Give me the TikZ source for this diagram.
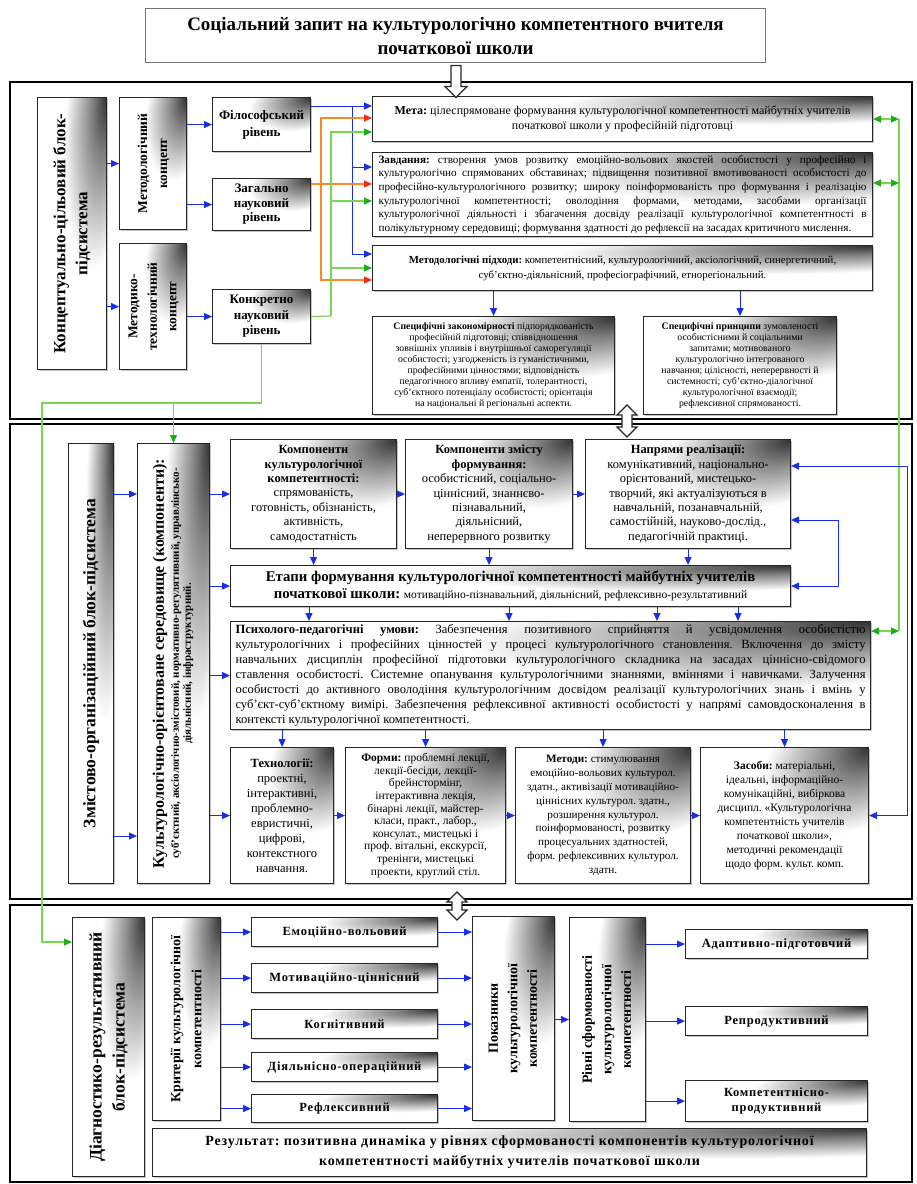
\documentclass[tikz,border=0pt]{standalone}
\usepackage{graphicx}
\usepackage{fontspec}
\setmainfont{Liberation Serif}
\newfontfamily\spacedserif{Liberation Serif}[LetterSpace=6]
\frenchspacing
\usetikzlibrary{arrows.meta,calc,shapes.arrows,shadows}
\definecolor{linkblue}{RGB}{25,45,235}
\definecolor{linkgreen}{RGB}{120,215,80}
\definecolor{tipgreen}{RGB}{25,175,25}
\definecolor{linkorange}{RGB}{250,135,40}
\definecolor{tipred}{RGB}{240,45,15}
\pgfdeclareradialshading{cornerglow}{\pgfpoint{25bp}{25bp}}{color(0bp)=(black!80); color(7bp)=(black!50); color(21bp)=(white); color(50bp)=(white)}

\begin{document}
\begin{tikzpicture}[x=1pt, y=-1pt,
        blk/.style={draw=black!85, line width=1.1pt, shade, shading=cornerglow,
                    drop shadow={shadow xshift=1.2pt, shadow yshift=-1.2pt, fill=black!45},
                    anchor=north west, align=center, inner sep=3pt},
        ttl/.style={draw=black!55, line width=1pt, fill=white, anchor=north west, align=center,
                    font=\bfseries\fontsize{19}{24}\selectfont},
        lvl/.style={font=\spacedserif\bfseries\fontsize{12.5}{15}\selectfont},
        frame/.style={draw=black, line width=1.8pt},
        hollow/.style={draw=black!85, line width=1.2pt, fill=white, inner sep=3.5pt},
        barr/.style={linkblue, line width=1pt, -{Triangle[length=8pt, width=7pt]}},
        bboth/.style={linkblue, line width=1pt, {Triangle[length=8pt, width=7pt]}-{Triangle[length=8pt, width=7pt]}},
        gline/.style={linkgreen, line width=1.2pt},
        garr/.style={gline, -{Triangle[length=8pt, width=7pt, color=tipgreen]}},
        gboth/.style={gline, {Triangle[length=8pt, width=7pt, color=tipgreen]}-{Triangle[length=8pt, width=7pt, color=tipgreen]}},
        oarr/.style={linkorange, line width=1.2pt, -{Triangle[length=8pt, width=7pt, color=tipred]}}
    ]
    \useasboundingbox (0,0) rectangle (917,1184);
    % frames of the three sub-systems
    \draw[frame] (10,82) rectangle (912,419);
    \draw[frame] (10,424) rectangle (912,899);
    \draw[frame] (10,905) rectangle (912,1182);

    \node[ttl, minimum width=620pt, minimum height=54pt] (req) at (145,8)
        {Соціальний запит на культурологічно компетентного вчителя\\початкової школи};

    % ---- conceptual block
    \node[blk, minimum width=69pt, minimum height=272pt, font=\bfseries\fontsize{17}{22}\selectfont] (conc) at (37,97)
        {\rotatebox{90}{\begin{tabular}{@{}c@{}}Концептуально-цільовий блок-\\підсистема\end{tabular}}};
    \node[blk, minimum width=67pt, minimum height=132pt, font=\bfseries\fontsize{13.5}{20}\selectfont] (metc) at (119,97)
        {\rotatebox{90}{\begin{tabular}{@{}c@{}}Методологічний\\концепт\end{tabular}}};
    \node[blk, minimum width=67pt, minimum height=126pt, font=\bfseries\fontsize{13.5}{19.5}\selectfont] (mtech) at (119,243)
        {\rotatebox{90}{\begin{tabular}{@{}c@{}}Методико-\\технологічний\\концепт\end{tabular}}};
    \node[blk, minimum width=98pt, minimum height=54pt, font=\bfseries\fontsize{13}{17}\selectfont] (fil) at (212,97) {Філософський\\рівень};
    \node[blk, minimum width=98pt, minimum height=52pt, font=\bfseries\fontsize{13}{14.5}\selectfont] (zag) at (212,178) {Загально\\науковий\\рівень};
    \node[blk, minimum width=98pt, minimum height=54pt, font=\bfseries\fontsize{13}{15.5}\selectfont] (konk) at (212,289) {Конкретно\\науковий\\рівень};

    \node[blk, minimum width=500pt, minimum height=45pt, font=\fontsize{12}{15}\selectfont] (meta) at (372,96)
        {\textbf{Мета:} цілеспрямоване формування культурологічної компетентності майбутніх учителів\\початкової школи у професійній підготовці};
    \node[blk, minimum width=500pt, minimum height=84pt, text width=488pt, align=justify, inner sep=2pt,
          font=\fontsize{11.2}{13.6}\selectfont] (zavd) at (372,152)
        {\parfillskip=0pt \textbf{Завдання:} створення умов розвитку емоційно-вольових якостей особистості у професійно і\linebreak
         культурологічно спрямованих обставинах; підвищення позитивної вмотивованості особистості до\linebreak
         професійно-культурологічного розвитку; широку поінформованість про формування і реалізацію\linebreak
         культурологічної компетентності; оволодіння формами, методами, засобами організації\linebreak
         культурологічної діяльності і збагачення досвіду реалізації культурологічної компетентності в\linebreak
         полікультурному середовищі; формування здатності до рефлексії на засадах критичного мислення.};
    \node[blk, minimum width=500pt, minimum height=45pt, font=\fontsize{10.8}{15}\selectfont] (pidh) at (372,245)
        {\textbf{Методологічні підходи:} компетентнісний, культурологічний, аксіологічний, синергетичний,\\суб’єктно-діяльнісний, професіографічний, етнорегіональний.};
    \node[blk, minimum width=242pt, minimum height=98pt, font=\fontsize{9.8}{11}\selectfont] (zak) at (372,316)
        {\textbf{Специфічні закономірності} підпорядкованість\\професійній підготовці; співвідношення\\зовнішніх упливів і внутрішньої саморегуляції\\особистості; узгодженість із гуманістичними,\\професійними цінностями; відповідність\\педагогічного впливу емпатії, толерантності,\\суб’єктного потенціалу особистості; орієнтація\\на національні й регіональні аспекти.};
    \node[blk, minimum width=193pt, minimum height=98pt, font=\fontsize{9.8}{11}\selectfont] (princ) at (643,316)
        {\textbf{Специфічні принципи} зумовленості\\особистісними й соціальними\\запитами; мотивованого\\культурологічно інтегрованого\\навчання; цілісності, неперервності й\\системності; суб’єктно-діалогічної\\культурологічної взаємодії;\\рефлексивної спрямованості.};

    % ---- content and organisation block
    \node[blk, minimum width=45pt, minimum height=440pt, font=\bfseries\fontsize{17.5}{22}\selectfont] (zmist) at (68,443)
        {\rotatebox{90}{Змістово-організаційний блок-підсистема}};
    \node[blk, minimum width=72pt, minimum height=440pt, font=\bfseries\fontsize{11}{12}\selectfont] (kult) at (137,443)
        {\rotatebox{90}{\begin{tabular}{@{}c@{}}{\fontsize{16}{20}\selectfont Культурологічно-орієнтоване середовище (компоненти):}\\[3pt]суб’єктний, аксіологічно-змістовий, нормативно-регулятивний, управлінсько-\\діяльнісний, інфраструктурний.\end{tabular}}};
    \node[blk, minimum width=166pt, minimum height=109pt, font=\fontsize{12.5}{14.4}\selectfont] (komp) at (230,439)
        {\textbf{Компоненти}\\\textbf{культурологічної}\\\textbf{компетентності:}\\спрямованість,\\готовність, обізнаність,\\активність,\\самодостатність};
    \node[blk, minimum width=167pt, minimum height=109pt, font=\fontsize{12.5}{14.4}\selectfont] (zmf) at (405,439)
        {\textbf{Компоненти змісту}\\\textbf{формування:}\\особистісний, соціально-\\ціннісний, знаннєво-\\пізнавальний,\\діяльнісний,\\неперервного розвитку};
    \node[blk, minimum width=205pt, minimum height=109pt, font=\fontsize{12.5}{14.4}\selectfont] (napr) at (585,439)
        {\textbf{Напрями реалізації:}\\комунікативний, національно-\\орієнтований, мистецько-\\творчий, які актуалізуються в\\навчальній, позанавчальній,\\самостійній, науково-дослід.,\\педагогічній практиці.};
    \node[blk, minimum width=560pt, minimum height=41pt, font=\bfseries\fontsize{14.8}{17}\selectfont] (etap) at (230,565)
        {Етапи формування культурологічної компетентності майбутніх учителів\\початкової школи: {\mdseries\fontsize{11.5}{17}\selectfont мотиваційно-пізнавальний, діяльнісний, рефлексивно-результативний}};
    \node[blk, minimum width=640pt, minimum height=108pt, text width=630pt, align=justify, inner sep=3pt,
          font=\fontsize{12.6}{15}\selectfont] (psy) at (230,621)
        {\textbf{Психолого-педагогічні умови:} Забезпечення позитивного сприйняття й усвідомлення особистістю\linebreak
         культурологічних і професійних цінностей у процесі культурологічного становлення. Включення до змісту\linebreak
         навчальних дисциплін професійної підготовки культурологічного складника на засадах ціннісно-свідомого\linebreak
         ставлення особистості. Системне опанування культурологічними знаннями, вміннями і навичками. Залучення\linebreak
         особистості до активного оволодіння культурологічним досвідом реалізації культурологічних знань і вмінь у\linebreak
         суб’єкт-суб’єктному вимірі. Забезпечення рефлексивної активності особистості у напрямі самовдосконалення в\linebreak
         контексті культурологічної компетентності.};
    \node[blk, minimum width=103pt, minimum height=136pt, font=\fontsize{12.5}{15}\selectfont] (tech) at (230,747)
        {\textbf{Технології:}\\проектні,\\інтерактивні,\\проблемно-\\евристичні,\\цифрові,\\контекстного\\навчання.};
    \node[blk, minimum width=160pt, minimum height=136pt, font=\fontsize{11.5}{12.6}\selectfont] (form) at (345,747)
        {\textbf{Форми:} проблемні лекції,\\лекції-бесіди, лекції-\\брейнстормінг,\\інтерактивна лекція,\\бінарні лекції, майстер-\\класи, практ., лабор.,\\консулат., мистецькі і\\проф. вітальні, екскурсії,\\тренінги, мистецькі\\проекти, круглий стіл.};
    \node[blk, minimum width=175pt, minimum height=136pt, font=\fontsize{11.2}{13.8}\selectfont] (meth) at (515,747)
        {\textbf{Методи:} стимулювання\\емоційно-вольових культурол.\\здатн., активізації мотиваційно-\\ціннісних культурол. здатн.,\\розширення культурол.\\поінформованості, розвитку\\процесуальних здатностей,\\форм. рефлексивних культурол.\\здатн.};
    \node[blk, minimum width=168pt, minimum height=136pt, font=\fontsize{11.5}{14}\selectfont] (zas) at (700,747)
        {\textbf{Засоби:} матеріальні,\\ідеальні, інформаційно-\\комунікаційні, вибіркова\\дисципл. «Культурологічна\\компетентність учителів\\початкової школи»,\\методичні рекомендації\\щодо форм. культ. комп.};

    % ---- diagnostic block
    \node[blk, minimum width=72pt, minimum height=259pt, font=\bfseries\fontsize{17.5}{23}\selectfont] (diag) at (72,917)
        {\rotatebox{90}{\begin{tabular}{@{}c@{}}Діагностико-результативний\\блок-підсистема\end{tabular}}};
    \node[blk, minimum width=68pt, minimum height=203pt, font=\bfseries\fontsize{14}{21}\selectfont] (krit) at (152,917)
        {\rotatebox{90}{\begin{tabular}{@{}c@{}}Критерії культурологічної\\компетентності\end{tabular}}};
    \node[blk, lvl, minimum width=186pt, minimum height=29pt] (emo) at (251,917) {Емоційно-вольовий};
    \node[blk, lvl, minimum width=186pt, minimum height=29pt] (mot) at (251,963) {Мотиваційно-ціннісний};
    \node[blk, lvl, minimum width=186pt, minimum height=29pt] (kog) at (251,1009) {Когнітивний};
    \node[blk, lvl, minimum width=186pt, minimum height=29pt] (dial) at (251,1052) {Діяльнісно-операційний};
    \node[blk, lvl, minimum width=186pt, minimum height=28pt] (refl) at (251,1094) {Рефлексивний};
    \node[blk, minimum width=82pt, minimum height=204pt, font=\bfseries\fontsize{14}{19.5}\selectfont] (pok) at (472,916)
        {\rotatebox{90}{\begin{tabular}{@{}c@{}}Показники\\культурологічної\\компетентності\end{tabular}}};
    \node[blk, minimum width=76pt, minimum height=204pt, font=\bfseries\fontsize{14}{19.5}\selectfont] (rivni) at (569,917)
        {\rotatebox{90}{\begin{tabular}{@{}c@{}}Рівні сформованості\\культурологічної\\компетентності\end{tabular}}};
    \node[blk, lvl, minimum width=182pt, minimum height=29pt] (adapt) at (685,929) {Адаптивно-підготовчий};
    \node[blk, lvl, minimum width=182pt, minimum height=29pt] (repr) at (685,1006) {Репродуктивний};
    \node[blk, lvl, minimum width=182pt, minimum height=41pt] (kprod) at (685,1080) {Компетентнісно-\\продуктивний};
    \node[blk, minimum width=714pt, minimum height=48pt, font=\spacedserif\bfseries\fontsize{14}{20}\selectfont] (res) at (152,1128)
        {Результат: позитивна динаміка у рівнях сформованості компонентів культурологічної\\компетентності майбутніх учителів початкової школи};

    % hollow arrows between the blocks
    \node[hollow, single arrow, shape border rotate=270, minimum height=32pt, minimum width=22pt,
          single arrow head extend=5pt] (reqarr) at (456,79) {};
    \node[hollow, double arrow, shape border rotate=90, minimum height=32pt, minimum width=20pt,
          double arrow head extend=4pt] (link1) at (627,421) {};
    \node[hollow, double arrow, shape border rotate=90, minimum height=28pt, minimum width=20pt,
          double arrow head extend=4pt] (link2) at (457,906) {};

    % connectors, conceptual block
    \draw[barr] (conc.east |- metc.west) -- (metc.west);
    \draw[barr] (conc.east |- mtech.west) -- (mtech.west);
    \draw[barr] (metc.east |- fil.west) -- (fil.west);
    \draw[barr] (metc.east |- zag.west) -- (zag.west);
    \draw[barr] (mtech.east |- konk.west) -- (konk.west);

    \coordinate (bsrc) at ([yshift=-9pt]fil.north east);
    \coordinate (bbus) at (352,106);
    \draw[barr] (bsrc) -- (bsrc -| meta.west);
    \draw[barr] (bbus) |- ([yshift=-15pt]zavd.north west);
    \draw[barr] (bbus) |- ([yshift=-9pt]pidh.north west);

    \coordinate (osrc) at ([yshift=-6pt]zag.north east);
    \coordinate (obus) at (321,184);
    \draw[oarr] (osrc) -- (osrc -| zavd.west);
    \draw[oarr] (obus) |- ([yshift=-22pt]meta.north west);
    \draw[oarr] (obus) |- ([yshift=-35pt]pidh.north west);

    \coordinate (gbus) at (331,316);
    \draw[gline] (konk.east) -- (gbus);
    \draw[garr] (gbus) |- ([yshift=-36pt]meta.north west);
    \draw[garr] (gbus) |- ([yshift=-49pt]zavd.north west);
    \draw[garr] (gbus) |- ([yshift=-23pt]pidh.north west);

    \draw[barr] (pidh.south -| zak.north) -- (zak.north);
    \draw[barr] (pidh.south -| princ.north) -- (princ.north);

    % green links to the lower blocks
    \coordinate (gdown) at (konk.south |- 0,403);
    \coordinate (gleft) at (42,403);
    \draw[garr] (konk.south) -- (gdown) -- (gleft) |- ([yshift=-25pt]diag.north west);
    \draw[garr] (kult.north |- gleft) -- (kult.north);

    \coordinate (gright) at (899,0);
    \coordinate (gz) at ([yshift=-31pt]zavd.north east);
    \coordinate (gp) at ([yshift=-10pt]psy.north east);
    \draw[gline] (meta.east -| gright) -- (gp -| gright);
    \draw[gboth] (meta.east) -- (meta.east -| gright);
    \draw[gboth] (gz) -- (gz -| gright);
    \draw[gboth] (gp) -- (gp -| gright);

    % connectors, content block
    \draw[barr] (zmist.east |- komp.west) -- (kult.west |- komp.west);
    \coordinate (zlow) at ([yshift=-89pt]tech.north west);
    \draw[barr] (zmist.east |- zlow) -- (kult.west |- zlow);
    \foreach \tgt in {komp,etap,psy,tech}
        \draw[barr] (kult.east |- \tgt.west) -- (\tgt.west);
    \draw[barr] (komp) -- (zmf);
    \draw[barr] (zmf) -- (napr);
    \foreach \src in {komp,zmf,napr}
        \draw[barr] (\src.south) -- (\src.south |- etap.north);
    \foreach \dx in {79,279,427,508} {
        \coordinate (ed) at ([xshift=\dx pt]etap.south west);
        \draw[barr] (ed) -- (ed |- psy.north);
    }
    \foreach \tgt in {tech,form,meth,zas}
        \draw[barr] (psy.south -| \tgt.north) -- (\tgt.north);
    \draw[barr] (tech) -- (form);
    \draw[barr] (form) -- (meth);
    \draw[barr] (meth) -- (zas);

    \coordinate (bright) at (907,0);
    \coordinate (nup) at ([yshift=-27pt]napr.north east);
    \draw[bboth] (zas.east) -- (zas.east -| bright) |- (nup);
    \coordinate (binner) at (838,0);
    \coordinate (nlow) at ([yshift=-81pt]napr.north east);
    \draw[bboth] (nlow) -- (nlow -| binner) |- (etap.east);

    % connectors, diagnostic block
    \foreach \c in {emo,mot,kog,dial,refl} {
        \draw[barr] (krit.east |- \c.west) -- (\c.west);
        \draw[barr] (\c.east) -- (\c.east -| pok.west);
    }
    \draw[barr] (pok.east |- rivni.west) -- (rivni.west);
    \foreach \c in {adapt,repr,kprod}
        \draw[barr] (rivni.east |- \c.west) -- (\c.west);
\end{tikzpicture}
\end{document}
